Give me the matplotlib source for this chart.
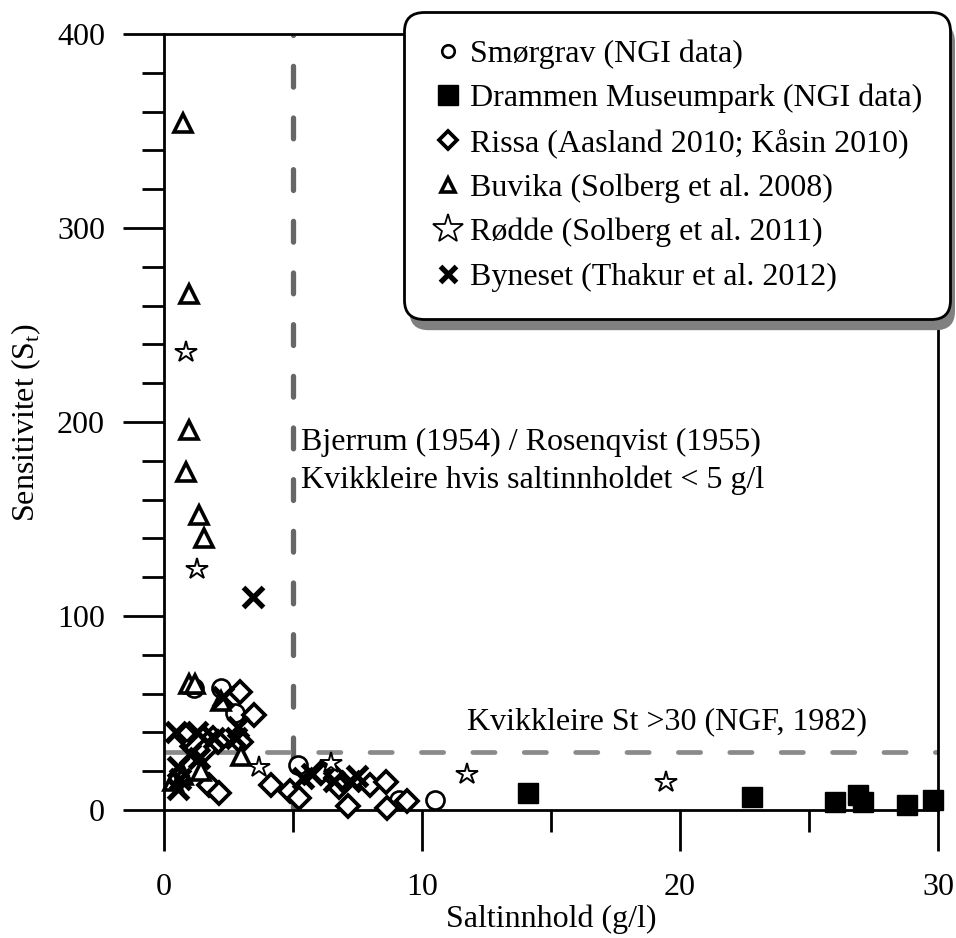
import matplotlib
matplotlib.use("Agg")
import matplotlib.pyplot as plt
from matplotlib.lines import Line2D
from matplotlib.patches import FancyBboxPatch
from matplotlib.transforms import IdentityTransform

plt.rcParams['font.family'] = ['Liberation Serif', 'DejaVu Serif']
plt.rcParams['mathtext.fontset'] = 'custom'
plt.rcParams['mathtext.rm'] = 'Liberation Serif'
plt.rcParams['lines.scale_dashes'] = False

# data (salt content g/l, sensitivity St)
smorgrav_x = [1.15, 2.2, 2.75, 5.2, 9.1, 10.5]
smorgrav_y = [63, 63, 50, 23, 5, 5]

drammen_x = [14.1, 22.8, 26.0, 26.9, 27.1, 28.8, 29.8]
drammen_y = [9, 6.5, 4.3, 7.7, 4.3, 2.6, 5]

rissa_x = [2.93, 3.47, 0.87, 1.9, 2.1, 3.0, 1.6, 1.75, 2.13, 4.15, 4.9, 5.24,
           6.08, 6.66, 6.8, 7.15, 8.0, 8.59, 8.65, 9.42]
rissa_y = [61, 49, 38, 37, 35, 35, 31, 13, 9, 13, 10, 6,
           19, 16.5, 12, 2, 13, 14.5, 1, 4.5]

buvika_x = [0.75, 0.97, 0.97, 0.87, 1.35, 1.56, 0.95, 1.2, 2.19, 3.0, 0.36, 0.74, 1.45]
buvika_y = [354, 266, 196, 174, 152, 140, 65, 65, 56, 28, 15, 18, 20]

rodde_x = [0.84, 1.27, 3.7, 6.47, 11.74, 19.45]
rodde_y = [236, 124, 22, 24, 18.6, 14.6]

byneset_x = [3.45, 2.3, 2.87, 0.45, 1.28, 1.95, 2.8, 1.0, 1.35, 0.55, 0.62, 0.55,
             5.37, 5.75, 6.58, 7.22, 7.48]
byneset_y = [110, 58, 43, 40, 40, 37, 37, 29, 27, 22, 16, 11,
             16.5, 18.3, 14.8, 14.8, 17.4]

labels = ['Smørgrav (NGI data)', 'Drammen Museumpark (NGI data)',
          'Rissa (Aasland 2010; Kåsin 2010)', 'Buvika (Solberg et al. 2008)',
          'Rødde (Solberg et al. 2011)', 'Byneset (Thakur et al. 2012)']

fs = 23

fig = plt.figure(figsize=(9.56, 9.38), dpi=100)
ax = fig.add_axes([164/956, 1-810/938, (938-164)/956, (810-34)/938])

# reference lines
ax.plot([5, 5], [0, 400], color='#676767', lw=3.8, ls=(0, (15, 22.2)),
        dash_capstyle='round', zorder=1)
ax.plot([0, 30], [30, 30], color='#8a8a8a', lw=3.4, ls=(0, (16, 21)),
        dash_capstyle='round', zorder=1)

kw = dict(ls='none', clip_on=False, zorder=3)
ax.plot(smorgrav_x, smorgrav_y, marker='o', ms=13, mfc='white', mec='black', mew=1.9, **kw)
ax.plot(drammen_x, drammen_y, marker='s', ms=14, mfc='black', mec='black', **kw)
ax.plot(rissa_x, rissa_y, marker='D', ms=11, mfc='white', mec='black', mew=2.7, **kw)
ax.plot(buvika_x, buvika_y, marker='^', ms=13, mfc='white', mec='black', mew=2.6, **kw)
ax.plot(rodde_x, rodde_y, marker='*', ms=16, mfc='white', mec='black', mew=1.4, **kw)
ax.plot(byneset_x, byneset_y, marker='x', ms=14, mec='black', mew=3.8, **kw)

ax.text(5.3, 185.6, 'Bjerrum (1954) / Rosenqvist (1955)', fontsize=fs, va='baseline')
ax.text(5.3, 166, 'Kvikkleire hvis saltinnholdet < 5 g/l', fontsize=fs, va='baseline')
ax.text(11.73, 41.8, 'Kvikkleire St >30 (NGF, 1982)', fontsize=fs, va='baseline')

ax.set_xlim(0, 30)
ax.set_ylim(0, 400)
ax.set_xticks([0, 10, 20, 30])
ax.set_xticks([5, 15, 25], minor=True)
ax.set_yticks([0, 100, 200, 300, 400])
ax.set_yticks(range(0, 401, 20), minor=True)
ax.tick_params(which='major', direction='out', length=29.5, width=2,
               labelsize=fs, pad=13)
ax.tick_params(which='minor', direction='out', length=16, width=2)
ax.tick_params(axis='x', which='major', pad=16)
for sp in ax.spines.values():
    sp.set_linewidth(2)

ax.set_xlabel('Saltinnhold (g/l)', fontsize=fs, labelpad=2)
ax.set_ylabel('Sensitivitet (S$_\\mathrm{t}$)', fontsize=fs, labelpad=10)

handles = [
    Line2D([], [], ls='none', marker='o', ms=9, mfc='white', mec='black', mew=1.9),
    Line2D([], [], ls='none', marker='s', ms=14, mfc='black', mec='black'),
    Line2D([], [], ls='none', marker='D', ms=9, mfc='white', mec='black', mew=2.7),
    Line2D([], [], ls='none', marker='^', ms=10, mfc='white', mec='black', mew=2.6),
    Line2D([], [], ls='none', marker='*', ms=22, mfc='white', mec='black', mew=1.3),
    Line2D([], [], ls='none', marker='x', ms=11, mec='black', mew=3.8),
]
leg = fig.legend(handles, labels, loc='upper right',
                 bbox_to_anchor=(950/956, 1-12/938), bbox_transform=fig.transFigure,
                 fontsize=fs, frameon=True, fancybox=True, framealpha=1,
                 edgecolor='black', borderpad=0.86, labelspacing=0.47,
                 handlelength=1.0, handletextpad=0.2, borderaxespad=0)
leg.get_frame().set_linewidth(2)
leg.get_frame().set_boxstyle('round', pad=0, rounding_size=0.6)

# drop shadow behind the legend box
fig.canvas.draw()
bb = leg.get_window_extent()
shadow = FancyBboxPatch((bb.x0 + 5, bb.y0 - 11), bb.width, bb.height,
                        boxstyle='round,pad=0,rounding_size=19',
                        transform=IdentityTransform(), facecolor='#808080',
                        edgecolor='none', zorder=4)
fig.add_artist(shadow)

fig.savefig('out.png', dpi=100)
